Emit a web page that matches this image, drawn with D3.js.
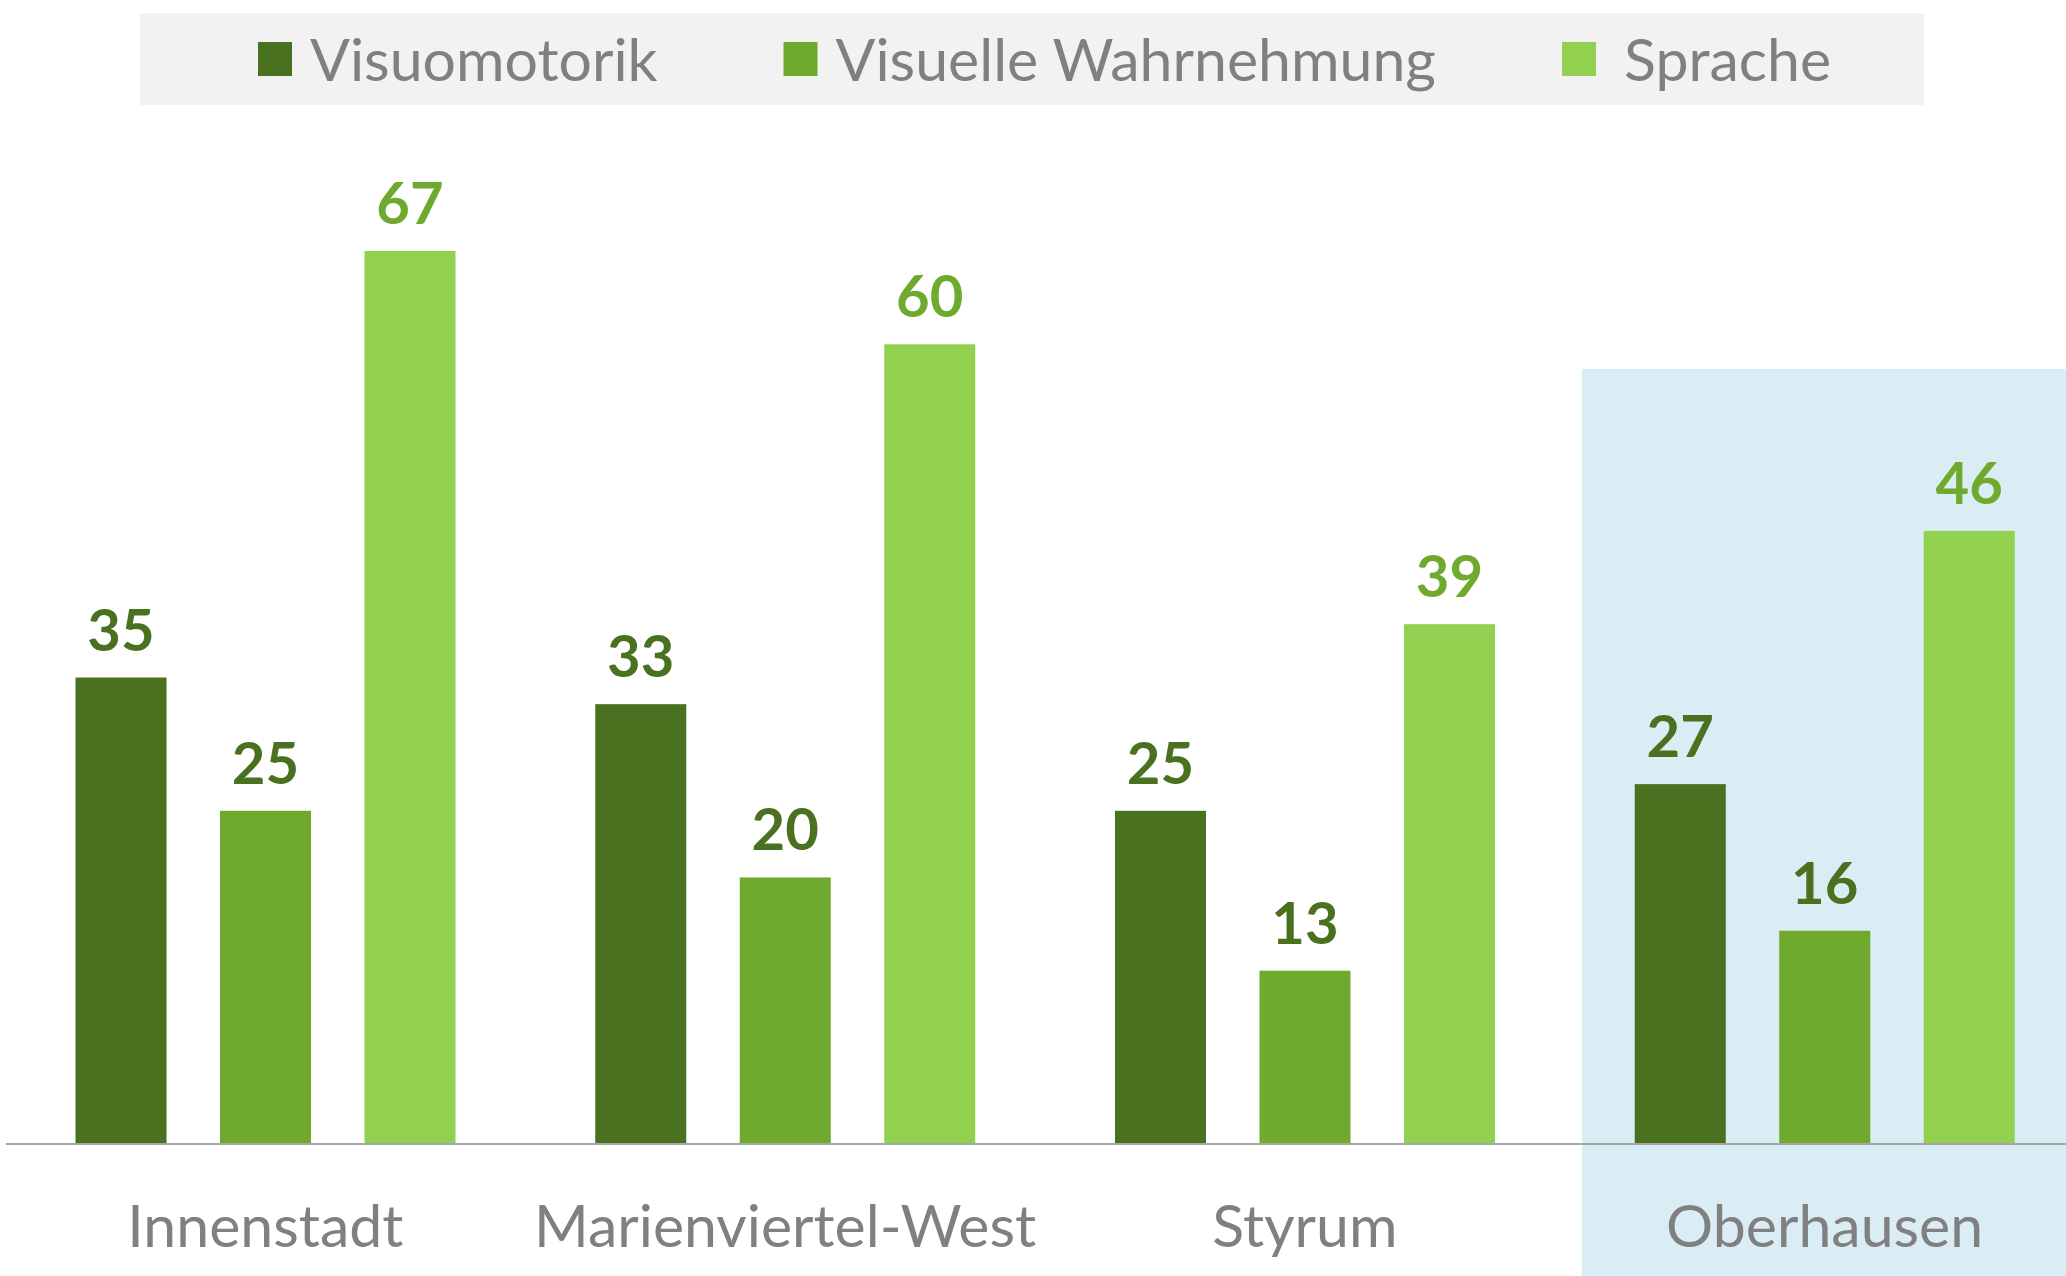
<!DOCTYPE html>
<html lang="de">
<head>
<meta charset="UTF-8">
<title>Visuomotorik, Wahrnehmung, Sprache</title>
<style>
  * { box-sizing: border-box; }
  body { margin: 0; background: #fff; font-family: 'Lato', sans-serif; }
  svg { display: block; }
</style>
</head>
<body>
<div id="chart"></div>
<script src="https://cdnjs.cloudflare.com/ajax/libs/d3/7.8.5/d3.min.js"></script>
<script>
// data
var categories = ['Innenstadt', 'Marienviertel-West', 'Styrum', 'Oberhausen'];
var series = ['Visuomotorik', 'Visuelle Wahrnehmung', 'Sprache'];
var visuomotorik = [35, 33, 25, 27];
var visuelle = [25, 20, 13, 16];
var sprache = [67, 60, 39, 46];
var highlighted = 'Oberhausen';

var w = 2066, h = 1276;
var baseY = 1144;
var barColors = ['#4a7120', '#6fa92e', '#92d050'];
var labelColors = ['#4a7120', '#4a7120', '#6fa92e'];
var grey = '#808080';

var rows = categories.map(function(c, i) {
  return { cat: c, values: [visuomotorik[i], visuelle[i], sprache[i]] };
});

const svg = d3.select('#chart').append('svg').attr('width', w).attr('height', h);

var x0 = d3.scaleBand().domain(categories).range([5.5, 2084.5]);
var x1 = d3.scaleBand().domain(series).range([70, 450]).paddingInner(0.37);
var y = d3.scaleLinear().domain([0, 67]).range([baseY, 251]);
var color = d3.scaleOrdinal().domain(series).range(barColors);
var labelColor = d3.scaleOrdinal().domain(series).range(labelColors);

// highlight box behind Oberhausen
svg.append('rect')
  .attr('x', x0(highlighted) + 17).attr('y', 369)
  .attr('width', w - x0(highlighted) - 17).attr('height', h - 369)
  .style('fill', '#dbedf4');

// legend
var legend = svg.append('g');
legend.append('rect').attr('x', 140).attr('y', 13).attr('width', 1784).attr('height', 92).style('fill', '#f2f2f2');
var lx = 258;
series.forEach(function(s, i) {
  legend.append('rect').attr('x', lx).attr('y', 42).attr('width', 34).attr('height', 34).style('fill', color(s));
  var tx = i === 2 ? 62 : 52;
  var t = legend.append('text').attr('x', lx + tx).attr('y', 81)
    .style('font-size', '59px').style('fill', grey).text(s);
  lx += 52 + t.node().getComputedTextLength() + 126;
});

// bars
var groups = svg.selectAll('g.group').data(rows).enter().append('g')
  .attr('class', 'group')
  .attr('transform', function(d) { return 'translate(' + x0(d.cat) + ',0)'; });

var items = groups.selectAll('g.item')
  .data(function(d) { return series.map(function(s, i) { return { key: s, value: d.values[i] }; }); })
  .enter().append('g').attr('class', 'item');

items.append('rect')
  .attr('x', function(d) { return x1(d.key); })
  .attr('y', function(d) { return y(d.value); })
  .attr('width', x1.bandwidth())
  .attr('height', function(d) { return baseY - y(d.value); })
  .style('fill', function(d) { return color(d.key); });

items.append('text')
  .attr('x', function(d) { return x1(d.key) + x1.bandwidth() / 2; })
  .attr('y', function(d) { return y(d.value) - 27; })
  .attr('text-anchor', 'middle')
  .style('font-size', '58px').style('font-weight', 'bold')
  .style('fill', function(d) { return labelColor(d.key); })
  .text(function(d) { return d.value; });

// category axis
var axis = svg.append('g').attr('transform', 'translate(0,' + baseY + ')')
  .call(d3.axisBottom(x0).tickSize(0).tickPadding(61));
axis.select('.domain').attr('d', 'M6,0H' + w).style('stroke', '#a6a6a6').style('stroke-width', 2);
axis.selectAll('text').style('font-family', 'Lato, sans-serif').style('font-size', '59px').style('fill', grey);
</script>
</body>
</html>
